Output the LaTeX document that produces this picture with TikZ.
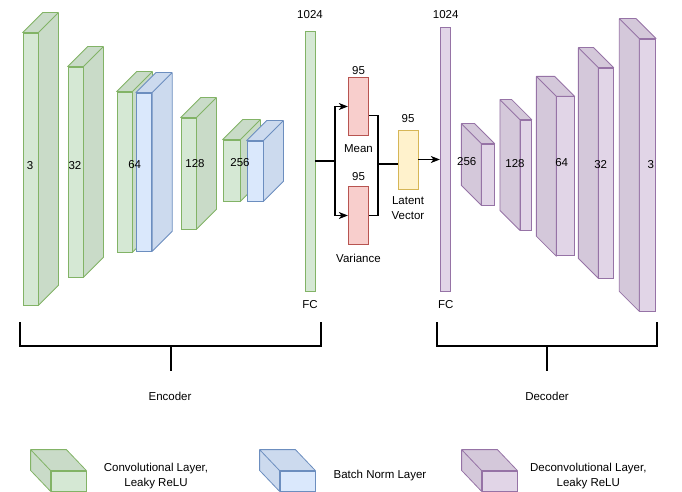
\documentclass[tikz,border=0pt]{standalone}
\usepackage{fontspec}
\setmainfont{Liberation Sans}
\usepackage{tikz}
\usetikzlibrary{arrows.meta}
\usetikzlibrary{calc}
\tikzset{>={Stealth[length=9pt,width=7pt,inset=2.5pt]}}
\definecolor{encFill}{HTML}{D5E8D4}
\definecolor{encLine}{HTML}{82B366}
\definecolor{encShade}{HTML}{C9DBC8}
\definecolor{bnFill}{HTML}{DAE8FC}
\definecolor{bnLine}{HTML}{6C8EBF}
\definecolor{bnShade}{HTML}{CCDAEE}
\definecolor{decFill}{HTML}{E1D5E7}
\definecolor{decLine}{HTML}{9673A6}
\definecolor{decShade}{HTML}{D4C8DA}
\definecolor{statFill}{HTML}{F8CECC}
\definecolor{statLine}{HTML}{B85450}
\definecolor{latFill}{HTML}{FFF2CC}
\definecolor{latLine}{HTML}{D6B656}
\tikzset{
  enc/.style={draw=encLine,fill=encFill,line width=0.8pt,inner sep=0pt},
  encside/.style={draw=encLine,fill=encShade,line width=0.8pt,line join=round},
  bn/.style={draw=bnLine,fill=bnFill,line width=0.8pt,inner sep=0pt},
  bnside/.style={draw=bnLine,fill=bnShade,line width=0.8pt,line join=round},
  dec/.style={draw=decLine,fill=decFill,line width=0.8pt,inner sep=0pt},
  decside/.style={draw=decLine,fill=decShade,line width=0.8pt,line join=round},
  stat/.style={draw=statLine,fill=statFill,line width=0.8pt,inner sep=0pt,minimum width=20.5pt,minimum height=58.5pt},
  lat/.style={draw=latLine,fill=latFill,line width=0.8pt,inner sep=0pt},
  link/.style={line width=1.1pt},
  brace/.style={line width=1.6pt}
}

\begin{document}
\begin{tikzpicture}[x=1pt,y=-1pt,font=\fontsize{11.5}{15}\selectfont]
\useasboundingbox (0,0) rectangle (682,492);

\node (E1) at (30.5,169) [enc,minimum width=15pt,minimum height=272pt] {};
\draw [encside] (E1.north west) -- ++(20,-20) -| ($(E1.south east)+(20,-20)$) -- (E1.south east) -- (E1.north east) -- cycle (E1.north east) -- ++(20,-20);
\node (E2) at (75.5,172) [enc,minimum width=15pt,minimum height=210pt] {};
\draw [encside] (E2.north west) -- ++(20,-20) -| ($(E2.south east)+(20,-20)$) -- (E2.south east) -- (E2.north east) -- cycle (E2.north east) -- ++(20,-20);
\node (E3) at (124.5,172) [enc,minimum width=15pt,minimum height=160pt] {};
\draw [encside] (E3.north west) -- ++(20,-20) -| ($(E3.south east)+(20,-20)$) -- (E3.south east) -- (E3.north east) -- cycle (E3.north east) -- ++(20,-20);
\node (N3) at (144,172) [bn,minimum width=15.5pt,minimum height=158pt] {};
\draw [bnside] (N3.north west) -- ++(20,-20) -| ($(N3.south east)+(20,-20)$) -- (N3.south east) -- (N3.north east) -- cycle (N3.north east) -- ++(20,-20);
\node (E4) at (188.5,173.5) [enc,minimum width=15pt,minimum height=111pt] {};
\draw [encside] (E4.north west) -- ++(20,-20) -| ($(E4.south east)+(20,-20)$) -- (E4.south east) -- (E4.north east) -- cycle (E4.north east) -- ++(20,-20);
\node (E5) at (231.5,170.5) [enc,minimum width=17pt,minimum height=61pt] {};
\draw [encside] (E5.north west) -- ++(20,-20) -| ($(E5.south east)+(20,-20)$) -- (E5.south east) -- (E5.north east) -- cycle (E5.north east) -- ++(20,-20);
\node (N5) at (255,171) [bn,minimum width=16pt,minimum height=60pt] {};
\draw [bnside] (N5.north west) -- ++(20,-20) -| ($(N5.south east)+(20,-20)$) -- (N5.south east) -- (N5.north east) -- cycle (N5.north east) -- ++(20,-20);

\node (T1) at (30,166) {3};
\node (T2) at (75,166) {32};
\node (T3) at (134.7,165) {64};
\node (T4) at (195,164) {128};
\node (T5) at (240,163) {256};

\node (F1) at (310,161) [enc,minimum width=10pt,minimum height=260pt] {};
\node (F1top) at (310,15) {1024};
\node (F1bot) at (310,305) {FC};

\node (M) at (358.5,106.5) [stat] {};
\node (Mtop) at (358.5,71) {95};
\node (Mbot) at (358.5,149) {Mean};
\node (V) at (358.5,215.5) [stat] {};
\node (Vtop) at (358.5,177) {95};
\node (Vbot) at (358.5,258) {Variance};
\node (Z) at (408,159.5) [lat,minimum width=20pt,minimum height=59pt] {};
\node (Ztop) at (408,119) {95};
\node (Zbot) at (408,208.5) [align=center] {Latent\\Vector};

\node (F2) at (445.5,159) [dec,minimum width=10.5pt,minimum height=264pt] {};
\node (F2top) at (445.7,15) {1024};
\node (F2bot) at (445.7,305) {FC};

\coordinate (S) at (335,161);
\coordinate (J) at (378,164);
\draw [link] (F1.east) -- (S);
\draw [link,->] (S) |- (M);
\draw [link,->] (S) |- (V);
\draw [link] ($(M.east)+(0,9)$) -| (J);
\draw [link] (V.east) -| (J);
\draw [link] (J) -- (J -| Z.west);
\draw [link,->] (Z.east) -- (Z.east -| F2.west);

\node (D1) at (488,174.5) [dec,minimum width=12.5pt,minimum height=61pt] {};
\draw [decside] (D1.north east) -- ++(-20,-20) -| ($(D1.south west)+(-20,-20)$) -- (D1.south west) -- (D1.north west) -- cycle (D1.north west) -- ++(-20,-20);
\node (D2) at (525.8,175) [dec,minimum width=11pt,minimum height=110pt] {};
\draw [decside] (D2.north east) -- ++(-20,-20) -| ($(D2.south west)+(-20,-20)$) -- (D2.south west) -- (D2.north west) -- cycle (D2.north west) -- ++(-20,-20);
\node (D3) at (565.5,176.3) [dec,minimum width=17.5pt,minimum height=159pt] {};
\draw [decside] (D3.north east) -- ++(-20,-20) -| ($(D3.south west)+(-20,-20)$) -- (D3.south west) -- (D3.north west) -- cycle (D3.north west) -- ++(-20,-20);
\node (D4) at (606,173) [dec,minimum width=14.5pt,minimum height=210pt] {};
\draw [decside] (D4.north east) -- ++(-20,-20) -| ($(D4.south west)+(-20,-20)$) -- (D4.south west) -- (D4.north west) -- cycle (D4.north west) -- ++(-20,-20);
\node (D5) at (647.7,175) [dec,minimum width=16pt,minimum height=272pt] {};
\draw [decside] (D5.north east) -- ++(-20,-20) -| ($(D5.south west)+(-20,-20)$) -- (D5.south west) -- (D5.north west) -- cycle (D5.north west) -- ++(-20,-20);

\node (U1) at (466.7,162) {256};
\node (U2) at (515,164) {128};
\node (U3) at (561.7,163) {64};
\node (U4) at (600.7,165) {32};
\node (U5) at (650.7,165) {3};

\draw [brace] (20,322) |- (321,346) -- (321,322) (171,346) -- (171,371);
\node (Enc) at (170,396) {Encoder};
\draw [brace] (437,322) |- (657,346) -- (657,322) (547,346) -- (547,371);
\node (Dec) at (547,396) {Decoder};

\node (K1) at (68.5,481) [enc,minimum width=35pt,minimum height=20pt] {};
\draw [encside] (K1.north east) -- ++(-20,-21) -| ($(K1.south west)+(-20,-21)$) -- (K1.south west) -- (K1.north west) -- cycle (K1.north west) -- ++(-20,-21);
\node (K1text) at (156,476.5) [align=center] {Convolutional Layer,\\Leaky ReLU};
\node (K2) at (297.5,481) [bn,minimum width=35pt,minimum height=20pt] {};
\draw [bnside] (K2.north east) -- ++(-20,-21) -| ($(K2.south west)+(-20,-21)$) -- (K2.south west) -- (K2.north west) -- cycle (K2.north west) -- ++(-20,-21);
\node (K2text) at (380,476) {Batch Norm Layer};
\node (K3) at (499.5,481) [dec,minimum width=35pt,minimum height=20pt] {};
\draw [decside] (K3.north east) -- ++(-20,-21) -| ($(K3.south west)+(-20,-21)$) -- (K3.south west) -- (K3.north west) -- cycle (K3.north west) -- ++(-20,-21);
\node (K3text) at (588.3,476.5) [align=center] {Deconvolutional Layer,\\Leaky ReLU};

\end{tikzpicture}
\end{document}
